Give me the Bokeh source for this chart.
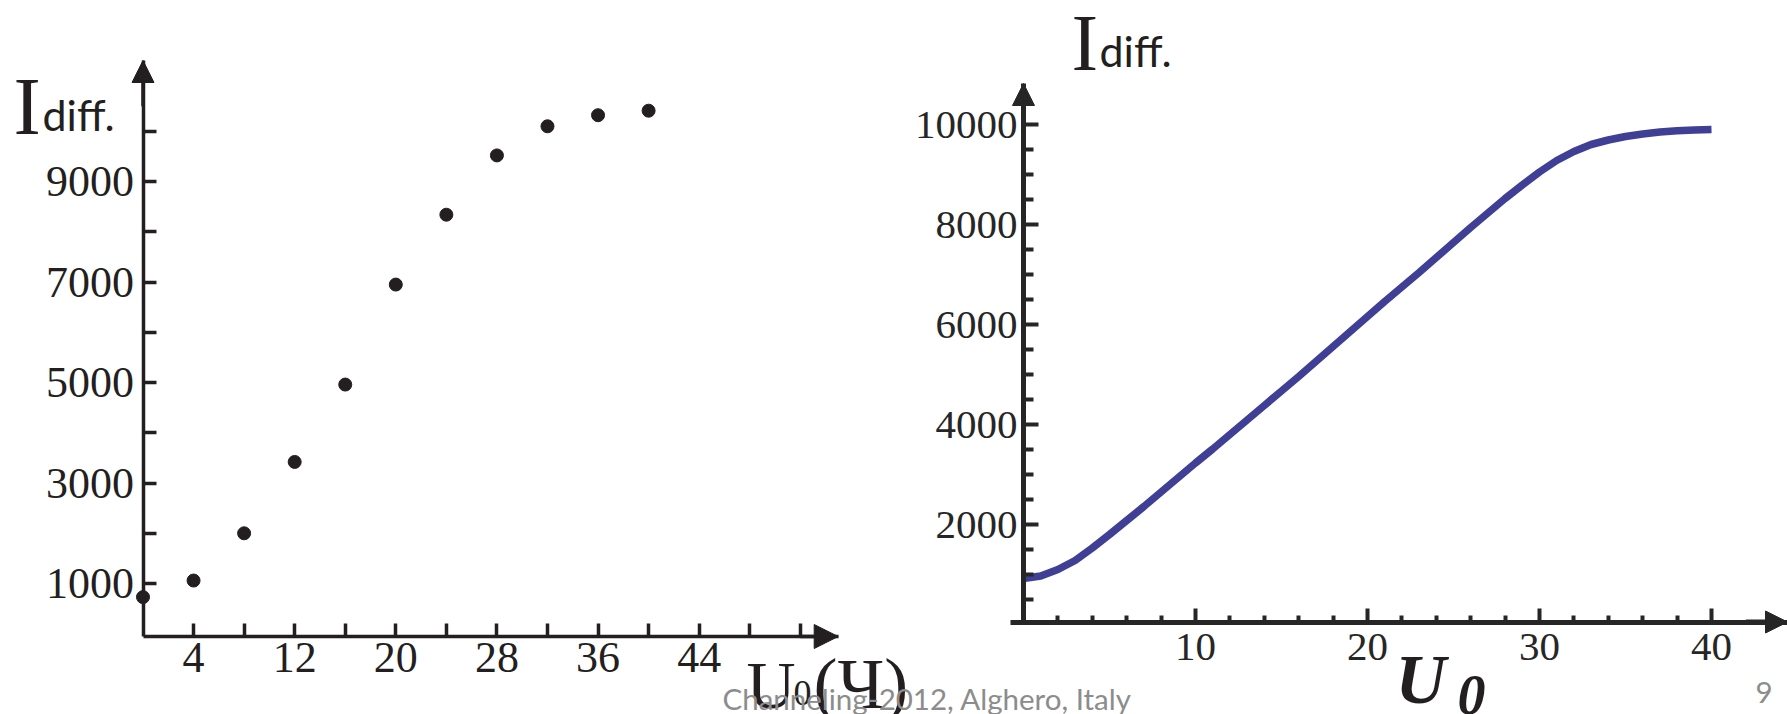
from bokeh.plotting import figure
from bokeh.models import Range1d, LinearAxis, FixedTicker, Arrow, NormalHead, Label
from bokeh.embed import file_html
from bokeh.resources import INLINE

# ---------------- data ----------------
u0_exp = [0, 4, 8, 12, 16, 20, 24, 28, 32, 36, 40]
idiff_exp = [730, 1060, 2000, 3420, 4960, 6950, 8340, 9520, 10100, 10320, 10410]

u0_calc = [0, 1, 2, 3, 4, 5, 6, 7, 8, 9, 10, 11, 12, 13, 14, 15, 16, 17, 18, 19, 20,
           21, 22, 23, 24, 25, 26, 27, 28, 29, 30, 31, 32, 33, 34, 35, 36, 37, 38, 39, 40]
idiff_calc = [920, 970, 1100, 1280, 1530, 1800, 2080, 2360, 2650, 2940, 3230,
              3510, 3800, 4090, 4380, 4670, 4960, 5260, 5560, 5860, 6160,
              6460, 6750, 7040, 7340, 7640, 7940, 8230, 8520, 8790, 9050,
              9280, 9460, 9600, 9690, 9760, 9810, 9850, 9875, 9890, 9900]

left_y_ticks = [1000, 3000, 5000, 7000, 9000]
left_y_minor = [2000, 4000, 6000, 8000, 10000]
left_x_ticks = [4, 12, 20, 28, 36, 44]
left_x_minor = [8, 16, 24, 32, 40, 48, 52]
right_y_ticks = [2000, 4000, 6000, 8000, 10000]
right_y_minor = [500, 1000, 1500, 2500, 3000, 3500, 4500, 5000, 5500,
                 6500, 7000, 7500, 8500, 9000, 9500]
right_x_ticks = [10, 20, 30, 40]
right_x_minor = [2, 4, 6, 8, 12, 14, 16, 18, 22, 24, 26, 28, 32, 34, 36, 38]

y_title_main = "I"
y_title_sub = "diff."
left_x_title = ["U", "0", "(Ч)"]
right_x_title = ["U", "0"]
footer = "Channeling-2012, Alghero, Italy"
page_no = "9"

# ---------------- layout geometry ----------------
W, H = 1787, 714


def hrange(px0, ppu):
    s = -px0 / ppu
    return Range1d(start=s, end=s + W / ppu)


def vrange(py0, ppu):
    return Range1d(start=-(H - py0) / ppu, end=py0 / ppu)


BLACK = "#231f20"
DARK = "#262626"
BLUE = "#3f3f96"
GRAY = "#8c8c8c"

p = figure(width=W, height=H, x_range=hrange(142.5, 12.64), y_range=vrange(633.3, 0.05025),
           x_axis_location=None, y_axis_location=None, toolbar_location=None,
           output_backend="svg", min_border=0, title=None)
p.extra_x_ranges = {"xr": hrange(1023, 17.2), "px": Range1d(start=0, end=W)}
p.extra_y_ranges = {"yr": vrange(624, 0.05), "py": Range1d(start=H, end=0)}
p.grid.visible = False
p.outline_line_color = None
p.background_fill_color = "white"
p.border_fill_color = "white"


def axis(xr, yr, loc, bounds, ticks, minor, color, lw, tlw, maj_in, min_in, fs, standoff):
    ax = LinearAxis(x_range_name=xr, y_range_name=yr, fixed_location=loc, bounds=bounds,
                    ticker=FixedTicker(ticks=ticks, minor_ticks=minor))
    ax.axis_line_color = color
    ax.axis_line_width = lw
    ax.major_tick_line_color = color
    ax.major_tick_line_width = tlw
    ax.minor_tick_line_color = color
    ax.minor_tick_line_width = tlw
    ax.major_tick_in = maj_in
    ax.major_tick_out = 0
    ax.minor_tick_in = min_in
    ax.minor_tick_out = 0
    ax.major_label_text_font = "Liberation Serif"
    ax.major_label_text_font_size = fs
    ax.major_label_text_color = color
    ax.major_label_standoff = standoff
    return ax


# left chart axes
p.add_layout(axis("default", "default", 0, (-54, 11409), left_y_ticks, left_y_minor,
                  BLACK, 3.5, 3.5, 13, 13, "44px", 9), "left")
p.add_layout(axis("default", "default", -54, (0, 55), left_x_ticks, left_x_minor,
                  BLACK, 3.5, 3.5, 13, 13, "44px", 6), "below")
# right chart axes
p.add_layout(axis("xr", "yr", 0, (50, 10820), right_y_ticks, right_y_minor,
                  DARK, 5, 4, 15, 10, "41px", 6), "left")
p.add_layout(axis("xr", "yr", 50, (-0.76, 44.42), right_x_ticks, right_x_minor,
                  DARK, 5, 4, 14, 7, "41px", 12), "below")

# arrow heads
p.add_layout(Arrow(end=NormalHead(size=22, fill_color=BLACK, line_color=BLACK, line_width=1),
                   x_start=0, y_start=10500, x_end=0, y_end=11409,
                   line_color=BLACK, line_width=3.5))
p.add_layout(Arrow(end=NormalHead(size=24, fill_color=BLACK, line_color=BLACK, line_width=1),
                   x_start=52, y_start=-54, x_end=55, y_end=-54,
                   line_color=BLACK, line_width=3.5))
p.add_layout(Arrow(end=NormalHead(size=22, fill_color=DARK, line_color=DARK, line_width=1),
                   x_start=0, y_start=10000, x_end=0, y_end=10820,
                   line_color=DARK, line_width=5, x_range_name="xr", y_range_name="yr"))
p.add_layout(Arrow(end=NormalHead(size=22, fill_color=DARK, line_color=DARK, line_width=1),
                   x_start=42, y_start=50, x_end=44.42, y_end=50,
                   line_color=DARK, line_width=5, x_range_name="xr", y_range_name="yr"))

# data marks
p.scatter(u0_exp, idiff_exp, size=13, color=BLACK)
p.line(u0_calc, idiff_calc, line_width=7.5, color=BLUE, x_range_name="xr", y_range_name="yr")

# empirical baseline correction per font (Label draws text centred on y)
SHIFT = {"Liberation Serif": 0.31, "Lato": 0.39}


def label(x, baseline, text, font, size, color=BLACK, style="normal"):
    y = baseline - SHIFT[font] * size
    p.add_layout(Label(x=x, y=y, text=text, text_font=font, text_font_size=f"{size}px",
                       text_color=color, text_font_style=style, text_baseline="alphabetic",
                       text_align="left", x_range_name="px", y_range_name="py"))


# axis titles
label(13, 131, y_title_main, "Liberation Serif", 82)
label(42, 131, y_title_sub, "Lato", 43)
label(1071, 67, y_title_main, "Liberation Serif", 80)
label(1099, 67, y_title_sub, "Lato", 43)

label(746, 706, left_x_title[0], "Liberation Serif", 68)
label(793, 704, left_x_title[1], "Liberation Serif", 36)
label(813, 706, left_x_title[2], "Liberation Serif", 72)

label(1395, 701, right_x_title[0], "Liberation Serif", 70, BLACK, "bold italic")
label(1457, 712, right_x_title[1], "Liberation Serif", 56, BLACK, "bold italic")

# footer
label(722, 710, footer, "Lato", 29.5, GRAY)
label(1755, 704, page_no, "Lato", 29.5, GRAY)

open("out.html", "w").write(file_html(p, INLINE))
